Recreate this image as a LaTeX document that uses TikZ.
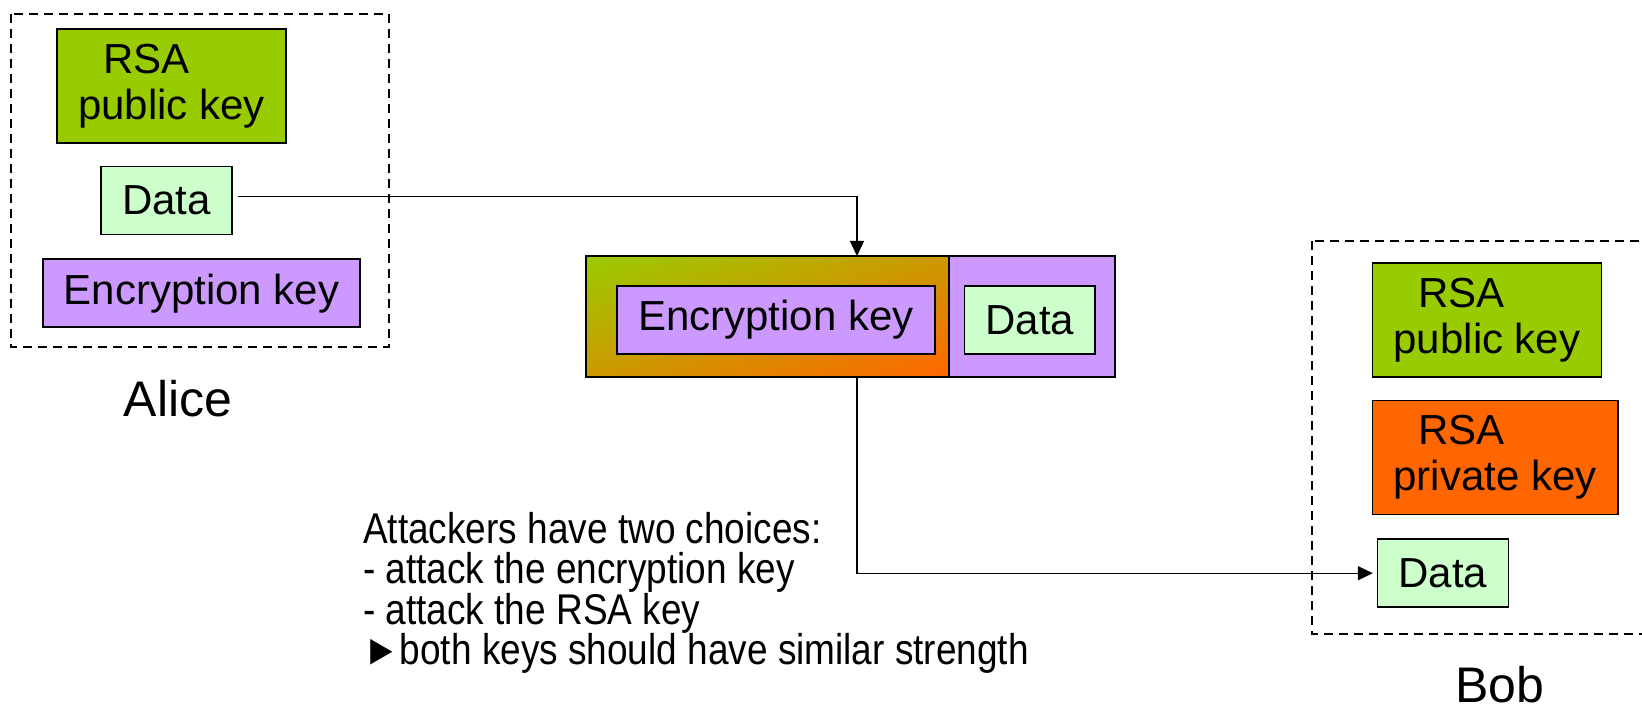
\documentclass[tikz,border=0pt]{standalone}
\usepackage{fontspec}
\setmainfont{Liberation Sans}
\newfontfamily\narrowfont{Liberation Sans}[FakeStretch=0.86]
\usetikzlibrary{positioning}
\usetikzlibrary{arrows.meta}
\usetikzlibrary{shadings}

\definecolor{rsagreen}{HTML}{99CC00}
\definecolor{rsaorange}{HTML}{FF6600}
\definecolor{keypurple}{HTML}{CC99FF}
\definecolor{datagreen}{HTML}{CCFFCC}

\newcommand{\boxfont}{\fontsize{42}{46}\selectfont}
\newcommand{\namefont}{\fontsize{50}{56}\selectfont}
\newcommand{\notefont}{\narrowfont\fontsize{43}{40.5}\selectfont}

\tikzset{
  keybox/.style={draw, line width=1.6pt, inner xsep=21pt, inner ysep=0pt, minimum height=68pt, font=\boxfont, align=left},
  pubkey/.style={keybox, fill=rsagreen, minimum height=114pt},
  privkey/.style={keybox, fill=rsaorange, minimum height=114pt},
  enckey/.style={keybox, fill=keypurple},
  databox/.style={keybox, fill=datagreen},
  partyname/.style={font=\namefont, inner sep=0pt},
  party/.style={draw, dashed, line width=1.3pt, dash pattern=on 9pt off 6pt},
  flow/.style={line width=1.3pt, -{Triangle[length=15pt,width=14pt]}}
}

\begin{document}
\begin{tikzpicture}[x=1pt, y=-1pt]
  \useasboundingbox (0,0) rectangle (1642,708);

  % Alice
  \draw[party] (11,14) rectangle (389,347);
  \node[pubkey] (alicePub) at (171.5,86) {\hspace*{25pt}RSA\\public key};
  \node[databox, below=22pt of alicePub, xshift=-5pt] (aliceData) {Data};
  \node[enckey, below=23pt of aliceData, xshift=35pt] (aliceEnc) {Encryption key};
  \node[partyname] (alice) at (178,399) {Alice};

  % envelope
  \node[draw, line width=1.6pt, outer sep=0pt, minimum width=363pt, minimum height=121pt,
        upper left=rsagreen, lower right=rsaorange,
        upper right=rsagreen!50!rsaorange, lower left=rsagreen!50!rsaorange] (keyPart) at (767.5,316.5) {};
  \node[draw, line width=1.6pt, outer sep=0pt, minimum width=166pt, minimum height=121pt,
        fill=keypurple, right=0pt of keyPart] (dataPart) {};
  \node[enckey] (encKey) at (776,320) {Encryption key};
  \node[databox, right=28pt of encKey] (encData) {Data};

  % Bob
  \draw[party] (1312,241) rectangle (1660,634);
  \node[pubkey] (bobPub) at (1487,320) {\hspace*{25pt}RSA\\public key};
  \node[privkey, below=22pt of bobPub.south west, anchor=north west] (bobPriv) {\hspace*{25pt}RSA\\private key};
  \node[databox, below=23pt of bobPriv.south west, anchor=north west, xshift=5pt] (bobData) {Data};
  \node[partyname] (bob) at (1500,685) {Bob};

  \node[font=\notefont, align=left, anchor=north west, inner sep=0pt] (note) at (363,512)
    {Attackers have two choices:\\- attack the encryption key\\- attack the RSA key\\►both keys should have similar strength};

  \draw[flow] ([xshift=5pt,yshift=4pt]aliceData.east) -| ([xshift=89.5pt]keyPart.north);
  \draw[flow, shorten >=4pt] ([xshift=89.5pt]keyPart.south) |- (bobData.west);
\end{tikzpicture}
\end{document}
